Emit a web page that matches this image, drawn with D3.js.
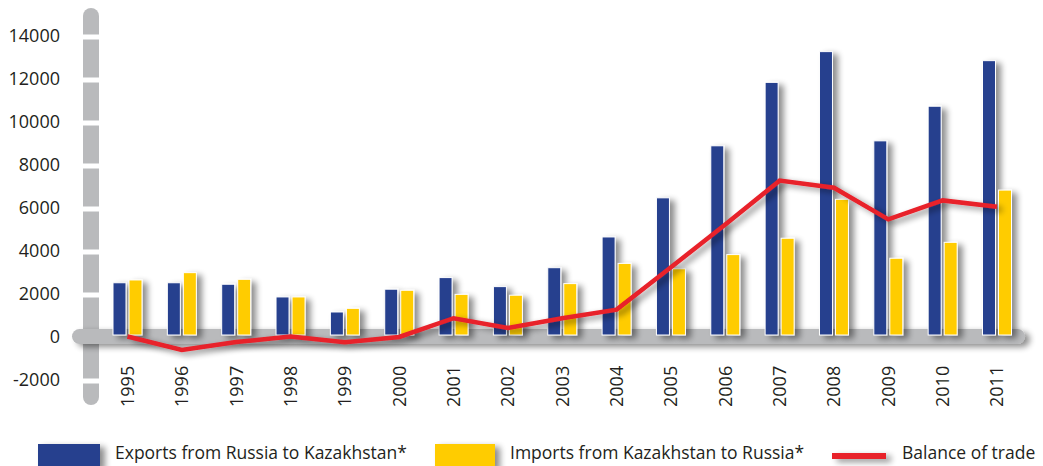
<!DOCTYPE html>
<html>
<head>
<meta charset="utf-8">
<script src="https://cdnjs.cloudflare.com/ajax/libs/d3/7.8.5/d3.min.js"></script>
<style>
  body { margin: 0; background: #fff; }
  svg { display: block; font-family: "Open Sans", sans-serif; }
  .tick_text { font-size: 18px; fill: #231f20; }
  .legend_text { font-size: 17.5px; fill: #231f20; }
</style>
</head>
<body>
<svg id="chart" width="1043" height="466"></svg>
<script>
var years = ["1995","1996","1997","1998","1999","2000","2001","2002","2003",
             "2004","2005","2006","2007","2008","2009","2010","2011"];
var exports_ru = [2500, 2500, 2430, 1840, 1140, 2200, 2740, 2320, 3200,
                  4630, 6450, 8870, 11820, 13250, 9100, 10710, 12830];
var imports_kz = [2630, 2970, 2660, 1840, 1310, 2150, 1960, 1920, 2460,
                  3400, 3150, 3810, 4570, 6380, 3640, 4380, 6810];
var balance = [0, -630, -260, 0, -270, -20, 850, 400, 850,
               1250, 3220, 5210, 7250, 6920, 5450, 6330, 6030];
var y_ticks = [-2000, 0, 2000, 4000, 6000, 8000, 10000, 12000, 14000];
var legend_labels = ["Exports from Russia to Kazakhstan*", "Imports from Kazakhstan to Russia*", "Balance of trade"];

var color1 = "#253f8e", color2 = "#ffcc00", color3 = "#e8202a", grey = "#b9babc";
var bar_w = 13;

var svg = d3.select("#chart");

var x = d3.scalePoint().domain(years).range([127.5, 997]);
var y = d3.scaleLinear().domain([-2000, 14000]).range([379.5, 35.5]);

// drop shadow
var defs = svg.append("defs");
var f = defs.append("filter").attr("id", "shadow")
            .attr("filterUnits", "userSpaceOnUse")
            .attr("x", 0).attr("y", 0).attr("width", 1043).attr("height", 466);
f.append("feGaussianBlur").attr("in", "SourceAlpha").attr("stdDeviation", 3).attr("result", "blur");
f.append("feOffset").attr("in", "blur").attr("dx", 5).attr("dy", 3).attr("result", "off");
f.append("feComponentTransfer").attr("in", "off").attr("result", "soft")
 .append("feFuncA").attr("type", "linear").attr("slope", 0.45);
var fm = f.append("feMerge");
fm.append("feMergeNode").attr("in", "soft");
fm.append("feMergeNode").attr("in", "SourceGraphic");

// vertical grey axis with gaps at ticks
svg.append("rect")
   .attr("x", 83).attr("y", 8)
   .attr("width", 16).attr("height", 397)
   .attr("rx", 8)
   .style("fill", grey);
svg.selectAll(".gap")
   .data(y_ticks.filter(function(d) { return d != 0; }))
   .enter().append("rect")
   .attr("class", "gap")
   .attr("x", 82).attr("width", 18)
   .attr("y", function(d) { return y(d) - 1; })
   .attr("height", 5)
   .style("fill", "#fff");

// y tick labels
svg.selectAll(".ylab")
   .data(y_ticks)
   .enter().append("text")
   .attr("class", "tick_text")
   .attr("x", 60)
   .attr("y", function(d) { return y(d); })
   .attr("dy", "0.35em")
   .attr("text-anchor", "end")
   .text(function(d) { return d; });

// horizontal zero band
svg.append("rect")
   .attr("x", 72).attr("y", y(0) - 7.5)
   .attr("width", 953).attr("height", 15)
   .attr("rx", 7.5)
   .style("fill", grey)
   .attr("filter", "url(#shadow)");

// bars
svg.selectAll(".bar_ex")
   .data(exports_ru)
   .enter().append("rect")
   .attr("x", function(d,i) { return x(years[i]) - bar_w - 1.5; })
   .attr("y", function(d) { return y(d); })
   .attr("width", bar_w)
   .attr("height", function(d) { return y(0) - 1.5 - y(d); })
   .style("fill", color1)
   .style("stroke", "#fff").style("stroke-width", 1)
   .attr("filter", "url(#shadow)");

svg.selectAll(".bar_im")
   .data(imports_kz)
   .enter().append("rect")
   .attr("x", function(d,i) { return x(years[i]) + 1.5; })
   .attr("y", function(d) { return y(d); })
   .attr("width", bar_w)
   .attr("height", function(d) { return y(0) - 1.5 - y(d); })
   .style("fill", color2)
   .style("stroke", "#fff").style("stroke-width", 1)
   .attr("filter", "url(#shadow)");

// balance line
var line = d3.line()
  .x(function(d,i) { return x(years[i]); })
  .y(function(d) { return y(d); });

svg.append("path")
   .datum(balance)
   .attr("d", line)
   .style("fill", "none")
   .style("stroke", color3)
   .style("stroke-width", 4.5)
   .attr("filter", "url(#shadow)");

// x labels
svg.selectAll(".xlab")
   .data(years)
   .enter().append("text")
   .attr("class", "tick_text")
   .attr("transform", function(d) { return "translate(" + x(d) + ",407) rotate(-90)"; })
   .attr("dy", "0.35em")
   .attr("text-anchor", "start")
   .text(function(d) { return d; });

// legend
svg.append("rect")
   .attr("x", 38).attr("y", 444).attr("width", 62).attr("height", 24)
   .style("fill", color1).attr("filter", "url(#shadow)");
svg.append("rect")
   .attr("x", 435).attr("y", 444).attr("width", 60).attr("height", 24)
   .style("fill", color2).attr("filter", "url(#shadow)");
svg.append("rect")
   .attr("x", 832).attr("y", 453).attr("width", 54).attr("height", 6)
   .style("fill", color3).attr("filter", "url(#shadow)");

var leg_x = [115, 510, 902];
svg.selectAll(".leg")
   .data(legend_labels)
   .enter().append("text")
   .attr("class", "legend_text")
   .attr("x", function(d,i) { return leg_x[i]; })
   .attr("y", 453)
   .attr("dy", "0.35em")
   .text(function(d) { return d; });
</script>
</body>
</html>
